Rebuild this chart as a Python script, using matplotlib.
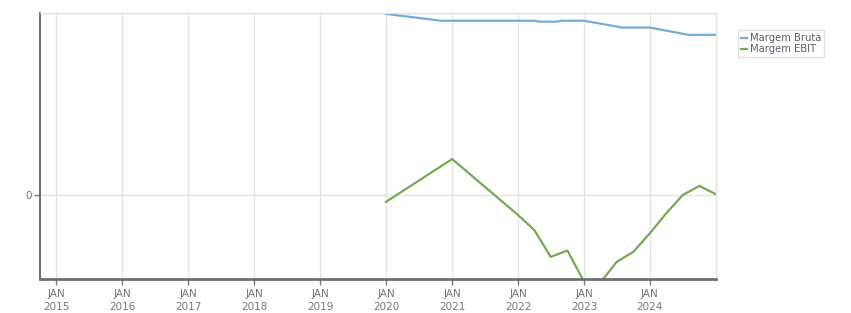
import matplotlib
matplotlib.use("Agg")
import matplotlib.pyplot as plt
from datetime import datetime

# Data
bruta_dates = ["2020-01", "2020-11", "2022-04", "2022-05", "2022-08", "2022-09",
               "2023-01", "2023-08", "2024-01", "2024-08", "2025-01"]
bruta_values = [39.8, 38.3, 38.3, 38.1, 38.1, 38.3, 38.3, 36.8, 36.8, 35.2, 35.2]

ebit_dates = ["2020-01", "2021-01", "2022-01", "2022-04", "2022-07", "2022-10",
              "2023-01", "2023-04", "2023-07", "2023-10", "2024-01", "2024-04",
              "2024-07", "2024-10", "2025-01"]
ebit_values = [-1.5, 7.9, -4.4, -7.7, -13.6, -12.2, -19.0, -19.3, -14.7, -12.5,
               -8.4, -4.0, 0.0, 2.0, 0.15]

tick_years = list(range(2015, 2025))
series_names = ["Margem Bruta", "Margem EBIT"]

def to_dt(s):
    return datetime.strptime(s, "%Y-%m")

fig = plt.figure(figsize=(8.51, 3.13), dpi=100)
ax = fig.add_axes([40 / 851, 34 / 313, 676 / 851, 266 / 313])

c_bruta = "#72aed3"
c_ebit = "#76a955"
ax.plot([to_dt(d) for d in bruta_dates], bruta_values, color=c_bruta, lw=1.6,
        label=series_names[0])
ax.plot([to_dt(d) for d in ebit_dates], ebit_values, color=c_ebit, lw=1.6,
        label=series_names[1])

x0 = datetime(2014, 10, 3)
x1 = datetime(2025, 1, 1)
ax.set_xlim(x0, x1)
ax.set_ylim(-18.46, 40)

ticks = [datetime(y, 1, 1) for y in tick_years]
ax.set_xticks(ticks)
ax.set_xticklabels([f"JAN\n{y}" for y in tick_years], linespacing=1.45)
ax.set_yticks([0, 40])
ax.set_yticklabels(["0", ""])

for lbl in ax.get_xticklabels() + ax.get_yticklabels():
    lbl.set_fontsize(7.5)
    lbl.set_color("#7a7474")
    lbl.set_family("DejaVu Sans")

ax.tick_params(axis="x", length=4, width=1, color="#777777", pad=3)
ax.tick_params(axis="y", length=4, width=1, color="#777777", pad=2)
ax.yaxis.get_major_ticks()[1].tick1line.set_visible(False)

ax.grid(True, color="#e3e3e3", lw=1)
ax.set_axisbelow(True)
for s in ["top", "right"]:
    ax.spines[s].set_color("#e3e3e3")
    ax.spines[s].set_linewidth(1)
for s in ["left", "bottom"]:
    ax.spines[s].set_color("#707070")
ax.spines["left"].set_linewidth(1.5)
ax.spines["bottom"].set_linewidth(2)

leg = ax.legend(loc="upper left", bbox_to_anchor=(738 / 851, 1 - 30 / 313),
                bbox_transform=fig.transFigure, frameon=True, fontsize=7.2,
                handlelength=0.6, handletextpad=0.25, borderpad=0.3,
                labelspacing=0.1, fancybox=False, borderaxespad=0)
leg.get_frame().set_edgecolor("#dddddd")
leg.get_frame().set_linewidth(1)
for t in leg.get_texts():
    t.set_color("#5e5a6e")

fig.savefig("out.png", dpi=100)
